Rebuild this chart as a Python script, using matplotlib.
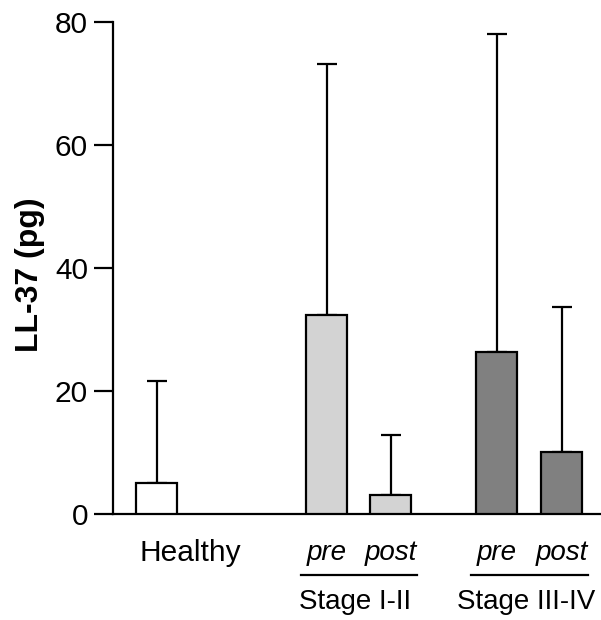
import matplotlib
matplotlib.use('Agg')
import matplotlib.pyplot as plt

plt.rcParams['font.family'] = ['Liberation Sans', 'DejaVu Sans']

# Valores (média e limite superior do erro)
groups = ['Healthy', 'Stage I-II', 'Stage III-IV']
bar_labels = ['', 'pre', 'post', 'pre', 'post']
means = [5.0, 32.4, 3.1, 26.3, 10.1]
upper = [21.6, 73.1, 12.9, 78.0, 33.7]
colors = ['white', '#d3d3d3', '#d3d3d3', '#808080', '#808080']

# posições das barras (layout)
xpos = [0, 2.66, 3.66, 5.32, 6.33]
width = 0.64

errs = [u - m for u, m in zip(upper, means)]

fig = plt.figure(figsize=(6.01, 6.2), dpi=100)
ax = fig.add_axes([113 / 601, 106 / 620, 487 / 601, 492 / 620])

ax.bar(xpos, means, width=width, color=colors, edgecolor='black', linewidth=1.6, zorder=3)
ax.errorbar(xpos, means, yerr=[[0] * len(errs), errs], fmt='none', ecolor='black',
            elinewidth=1.6, capsize=7.5, capthick=1.6, zorder=2)

ax.set_xlim(-0.68, 6.93)
ax.set_ylim(0, 80)
ax.set_yticks([0, 20, 40, 60, 80])
ax.set_xticks([])
for s in ['top', 'right']:
    ax.spines[s].set_visible(False)
ax.spines['left'].set_linewidth(1.6)
ax.spines['bottom'].set_linewidth(1.6)
ax.tick_params(axis='y', length=14, width=1.6, pad=4, labelsize=21.5)
ax.set_ylabel('LL-37 (pg)', fontsize=23, fontweight='bold')
ax.yaxis.set_label_coords(-68 / 487, 0.486)

# rótulos do eixo x
ax.text(0.53, -6.3, groups[0], ha='center', va='center', fontsize=21.5, clip_on=False)
for x, lab in zip(xpos, bar_labels):
    if lab:
        ax.text(x, -6.3, lab, ha='center', va='center', fontsize=20, style='italic', clip_on=False)

for (a, b), g in zip([(1, 2), (3, 4)], groups[1:]):
    c = (xpos[a] + xpos[b]) / 2
    ax.plot([c - 0.91, c + 0.91], [-9.9, -9.9], color='black', lw=1.6, clip_on=False)
    ax.text(c - 0.05, -14.3, g, ha='center', va='center', fontsize=20, clip_on=False)

fig.savefig('out.png', dpi=100)
